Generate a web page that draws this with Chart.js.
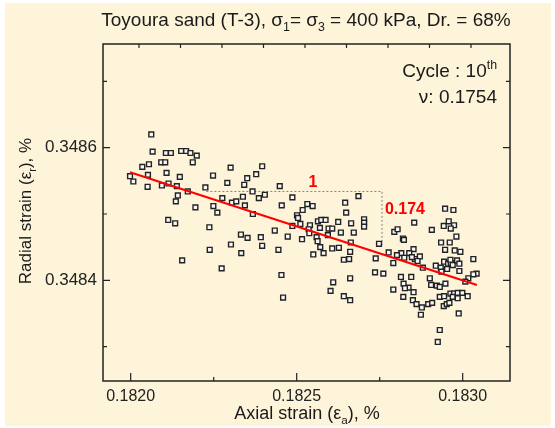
<!DOCTYPE html>
<html>
<head>
<meta charset="utf-8">
<script src="https://cdn.jsdelivr.net/npm/chart.js@4.4.0/dist/chart.umd.min.js"></script>
<style>
html, body { margin: 0; padding: 0; background: #fff; }
</style>
</head>
<body>
<canvas id="mycanvas" width="555" height="428"></canvas>
<script>
// measured points, cycle 10
var axialStrain = [
    0.182062,0.182066,0.182106,0.182121,0.182152,0.182167,0.182180,0.182199,0.182187,0.182035,
    0.182055,0.182092,0.182104,0.181998,0.182008,0.182052,0.182051,0.182108,0.182148,0.182094,
    0.182114,0.182139,0.182172,0.182142,0.182136,0.182195,0.182225,0.182248,0.182301,0.182291,
    0.182276,0.182249,0.182261,0.182305,0.182318,0.182113,0.182134,0.182237,0.182396,0.182378,
    0.182351,0.182342,0.182449,0.182367,0.182338,0.182404,0.182386,0.182344,0.182487,0.182455,
    0.182532,0.182548,0.182686,0.182646,0.182649,0.182368,0.182518,0.182501,0.182504,0.182511,
    0.182540,0.182564,0.182574,0.182587,0.182625,0.182664,0.182487,0.182434,0.182536,0.182538,
    0.182570,0.182596,0.182607,0.182633,0.182672,0.182332,0.182352,0.182392,0.182473,0.182560,
    0.182594,0.182516,0.182703,0.182703,0.182703,0.182947,0.182972,0.182854,0.182943,0.182958,
    0.182974,0.182964,0.182907,0.182794,0.182804,0.182981,0.182820,0.182823,0.182935,0.182961,
    0.182748,0.182852,0.182839,0.182815,0.182802,0.182777,0.182947,0.182976,0.182993,0.183032,
    0.182738,0.182824,0.182856,0.182871,0.182864,0.182847,0.182791,0.182880,0.182919,0.182934,
    0.182944,0.182956,0.182964,0.182970,0.182983,0.182990,0.182963,0.182953,0.182936,0.182990,
    0.183042,0.183032,0.183017,0.183008,0.182736,0.182761,0.182814,0.182845,0.182901,0.182822,
    0.182837,0.182852,0.182791,0.182826,0.182821,0.182905,0.182922,0.182931,0.182948,0.182931,
    0.182944,0.182963,0.182974,0.182985,0.182999,0.183015,0.182970,0.182985,0.182850,0.182861,
    0.182877,0.182896,0.182908,0.182943,0.182952,0.182960,0.182874,0.182988,0.182931,0.182925,
    0.182333,0.182396,0.182445,0.182571,0.182581,0.182550,0.182607,0.182627,0.182663,0.182661,
    0.182642,0.182658,0.182454,0.182661,0.182610,0.182602,0.182459,0.182642,0.182661,0.182563,
    0.182302,0.182238,0.182155,0.182274
];
var radialStrain = [
    0.348620,0.348594,0.348592,0.348592,0.348595,0.348595,0.348592,0.348588,0.348578,0.348571,
    0.348575,0.348578,0.348578,0.348557,0.348549,0.348559,0.348541,0.348562,0.348556,0.348543,
    0.348546,0.348542,0.348534,0.348528,0.348519,0.348510,0.348540,0.348558,0.348570,0.348547,
    0.348524,0.348512,0.348502,0.348517,0.348519,0.348491,0.348486,0.348480,0.348572,0.348560,
    0.348554,0.348544,0.348542,0.348534,0.348526,0.348529,0.348524,0.348513,0.348525,0.348513,
    0.348515,0.348512,0.348527,0.348517,0.348502,0.348500,0.348506,0.348498,0.348494,0.348485,
    0.348483,0.348489,0.348491,0.348491,0.348488,0.348486,0.348482,0.348475,0.348477,0.348471,
    0.348479,0.348478,0.348478,0.348472,0.348472,0.348469,0.348464,0.348465,0.348466,0.348465,
    0.348468,0.348462,0.348492,0.348487,0.348481,0.348508,0.348506,0.348487,0.348482,0.348489,
    0.348483,0.348478,0.348476,0.348473,0.348477,0.348466,0.348463,0.348461,0.348457,0.348457,
    0.348455,0.348447,0.348441,0.348441,0.348438,0.348442,0.348446,0.348445,0.348443,0.348432,
    0.348433,0.348434,0.348432,0.348436,0.348429,0.348435,0.348426,0.348419,0.348422,0.348419,
    0.348428,0.348425,0.348426,0.348423,0.348430,0.348425,0.348431,0.348417,0.348413,0.348414,
    0.348410,0.348409,0.348403,0.348398,0.348412,0.348410,0.348405,0.348405,0.348403,0.348395,
    0.348389,0.348382,0.348386,0.348388,0.348375,0.348393,0.348392,0.348390,0.348395,0.348375,
    0.348376,0.348380,0.348380,0.348381,0.348381,0.348376,0.348375,0.348373,0.348370,0.348364,
    0.348359,0.348364,0.348366,0.348361,0.348364,0.348366,0.348348,0.348350,0.348325,0.348307,
    0.348441,0.348452,0.348446,0.348450,0.348441,0.348439,0.348448,0.348449,0.348457,0.348443,
    0.348431,0.348432,0.348408,0.348403,0.348397,0.348384,0.348374,0.348376,0.348370,0.348459,
    0.348454,0.348446,0.348430,0.348418
];

// regression line and slope triangle
var fitX = [0.181998, 0.183043];
var fitY = [0.348563, 0.348393];
var guideX = [0.182228, 0.182757, 0.182757];
var guideY = [0.348534, 0.348534, 0.348453];

var xMajorTicks = [0.1820, 0.1825, 0.1830];
var xMinorTicks = [0.18225, 0.18275];
var xTopTicks = [0.182025, 0.18215, 0.182275, 0.1824, 0.182525, 0.18265, 0.182775, 0.1829, 0.183025];
var yMajorTicks = [0.3484, 0.3486];
var yMinorTicks = [0.3483, 0.3485, 0.3487];

var FONT = "'Liberation Sans', Arial, sans-serif";

function toPoints(xs, ys) {
    var out = [];
    for (var i = 0; i < xs.length; i++) {
        out.push({x: xs[i], y: ys[i]});
    }
    return out;
}

// text with sub/superscripts: [text, 0 normal | -1 sub | 1 sup]
function drawRich(ctx, parts, x, y, size, align) {
    var w = 0;
    parts.forEach(function(p) {
        ctx.font = (p[1] ? size * 0.65 : size) + 'px ' + FONT;
        w += ctx.measureText(p[0]).width;
    });
    var cx = x;
    if (align === 'center') cx = x - w / 2;
    if (align === 'right') cx = x - w;
    ctx.textAlign = 'left';
    ctx.textBaseline = 'alphabetic';
    parts.forEach(function(p) {
        var s = p[1] ? size * 0.65 : size;
        ctx.font = s + 'px ' + FONT;
        var dy = 0;
        if (p[1] === -1) dy = size * 0.28;
        if (p[1] === 1) dy = -size * 0.42;
        ctx.fillText(p[0], cx, y + dy);
        cx += ctx.measureText(p[0]).width;
    });
}

var paperPlugin = {
    id: 'paper',
    beforeDraw: function(chart) {
        var ctx = chart.ctx;
        ctx.save();
        ctx.fillStyle = '#ffffff';
        ctx.fillRect(0, 0, chart.width, chart.height);
        ctx.fillStyle = '#fdf4da';
        ctx.fillRect(5, 3, 546, 423);
        ctx.restore();
    },
    afterDraw: function(chart) {
        var ctx = chart.ctx;
        var a = chart.chartArea;
        var xs = chart.scales.x, ys = chart.scales.y;
        ctx.save();
        ctx.strokeStyle = '#222';
        ctx.lineWidth = 1.5;
        ctx.strokeRect(a.left, a.top, a.right - a.left, a.bottom - a.top);

        ctx.lineWidth = 1.2;
        ctx.beginPath();
        xMajorTicks.forEach(function(v) {
            var px = xs.getPixelForValue(v);
            ctx.moveTo(px, a.bottom); ctx.lineTo(px, a.bottom - 8);
        });
        xMinorTicks.forEach(function(v) {
            var px = xs.getPixelForValue(v);
            ctx.moveTo(px, a.bottom); ctx.lineTo(px, a.bottom - 4);
        });
        xTopTicks.forEach(function(v) {
            var px = xs.getPixelForValue(v);
            ctx.moveTo(px, a.top); ctx.lineTo(px, a.top + 4);
        });
        yMajorTicks.forEach(function(v) {
            var py = ys.getPixelForValue(v);
            ctx.moveTo(a.left, py); ctx.lineTo(a.left + 7, py);
            ctx.moveTo(a.right, py); ctx.lineTo(a.right - 7, py);
        });
        yMinorTicks.forEach(function(v) {
            var py = ys.getPixelForValue(v);
            ctx.moveTo(a.left, py); ctx.lineTo(a.left + 4, py);
            ctx.moveTo(a.right, py); ctx.lineTo(a.right - 4, py);
        });
        ctx.stroke();

        ctx.fillStyle = '#1a1a1a';
        drawRich(ctx, [['Toyoura sand (T-3), \u03c3', 0], ['1', -1], ['= \u03c3', 0], ['3', -1],
            [' = 400 kPa, Dr. = 68%', 0]], 306, 26, 19, 'center');
        drawRich(ctx, [['Axial strain (\u03b5', 0], ['a', -1], ['), %', 0]], 307, 419, 18, 'center');
        drawRich(ctx, [['Cycle : 10', 0], ['th', 1]], 497, 77, 19, 'right');
        drawRich(ctx, [['\u03bd: 0.1754', 0]], 497, 103, 19, 'right');

        ctx.save();
        ctx.translate(31, 211);
        ctx.rotate(-Math.PI / 2);
        drawRich(ctx, [['Radial strain (\u03b5', 0], ['r', -1], ['), %', 0]], 0, 0, 17, 'center');
        ctx.restore();

        ctx.fillStyle = '#ff0000';
        ctx.font = 'bold 16px ' + FONT;
        ctx.textAlign = 'center';
        ctx.textBaseline = 'middle';
        ctx.fillText('1', xs.getPixelForValue(0.182549), ys.getPixelForValue(0.348548));
        ctx.fillText('0.174', xs.getPixelForValue(0.182826), ys.getPixelForValue(0.348506));
        ctx.restore();
    }
};

var ctx = document.getElementById('mycanvas');

var scatterChart = new Chart(ctx, {
    type: 'scatter',
    data: {
        datasets: [
            {
                label: 'Cycle 10',
                data: toPoints(axialStrain, radialStrain),
                pointStyle: 'rect',
                pointRadius: 3.4,
                borderWidth: 1.4,
                borderColor: '#222222',
                backgroundColor: '#f7f7f7',
                order: 2
            },
            {
                label: 'Fit',
                type: 'line',
                data: toPoints(fitX, fitY),
                borderColor: '#ff0000',
                borderWidth: 2,
                pointRadius: 0,
                fill: false,
                order: 1
            },
            {
                label: 'Slope',
                type: 'line',
                data: toPoints(guideX, guideY),
                borderColor: '#808080',
                borderWidth: 1,
                borderDash: [2, 2],
                pointRadius: 0,
                fill: false,
                order: 3
            }
        ]
    },
    options: {
        responsive: false,
        animation: false,
        devicePixelRatio: 1,
        layout: { padding: { top: 44, right: 45, left: 0, bottom: 0 } },
        plugins: {
            legend: { display: false },
            tooltip: { enabled: false }
        },
        scales: {
            x: {
                type: 'linear',
                min: 0.1819166,
                max: 0.1831425,
                grid: { display: false, drawTicks: false },
                border: { display: false },
                afterBuildTicks: function(scale) {
                    scale.ticks = xMajorTicks.map(function(v) { return {value: v}; });
                },
                afterFit: function(scale) { scale.height = 47; },
                ticks: {
                    padding: 6,
                    color: '#222',
                    font: { size: 16, family: FONT },
                    maxRotation: 0,
                    callback: function(v) { return v.toFixed(4); }
                }
            },
            y: {
                type: 'linear',
                min: 0.3482481,
                max: 0.3487564,
                grid: { display: false, drawTicks: false },
                border: { display: false },
                afterBuildTicks: function(scale) {
                    scale.ticks = yMajorTicks.map(function(v) { return {value: v}; });
                },
                afterFit: function(scale) { scale.width = 103; },
                ticks: {
                    padding: 6,
                    color: '#222',
                    font: { size: 17, family: FONT },
                    callback: function(v) { return v.toFixed(4); }
                }
            }
        }
    },
    plugins: [paperPlugin]
});
</script>
</body>
</html>
